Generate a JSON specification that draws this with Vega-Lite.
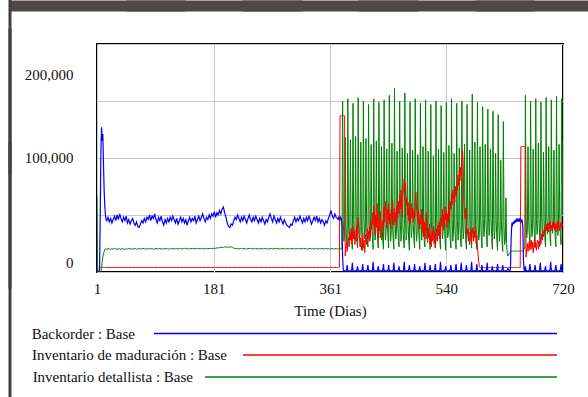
{
"$schema":"https://vega.github.io/schema/vega-lite/v6.json",
"autosize":{"type":"none"},
"width":466,"height":228,
"padding":{"left":97,"top":44,"right":25,"bottom":125},
"background":"white",
"config":{"font":"Liberation Serif","view":{"stroke":"black","strokeWidth":2,"fill":"white"}},
"data":{"values":[
{"t":1,"b":0,"r":0,"g":67000},{"t":2,"b":0,"r":0,"g":0},{"t":3,"b":0,"r":0,"g":0},{"t":4,"b":0,"r":0,"g":0},
{"t":5,"b":5000,"r":2000,"g":0},{"t":6,"b":50000,"r":4000,"g":0},{"t":7,"b":105000,"r":4000,"g":0},
{"t":8,"b":127000,"r":4000,"g":3000},{"t":9,"b":115000,"r":4000,"g":9000},{"t":10,"b":121000,"r":4000,"g":13000},
{"t":11,"b":95000,"r":4000,"g":16000},{"t":12,"b":72000,"r":4000,"g":18000},{"t":13,"b":58000,"r":4000,"g":19500},
{"t":14,"b":50000,"r":4000,"g":20500},{"t":15,"b":46000,"r":4000,"g":20000},
{"t":16,"b":45000,"r":4000,"g":20000},{"t":18,"b":48000,"r":4000,"g":20500},{"t":20,"b":44000,"r":4000,"g":20200},
{"t":22,"b":47000,"r":4000,"g":19800},{"t":24,"b":43000,"r":4000,"g":20400},{"t":26,"b":46000,"r":4000,"g":20100},
{"t":28,"b":49000,"r":4000,"g":20600},{"t":30,"b":45000,"r":4000,"g":20200},{"t":32,"b":50000,"r":4000,"g":19900},
{"t":34,"b":46000,"r":4000,"g":20400},{"t":36,"b":51000,"r":4000,"g":20300},{"t":38,"b":47000,"r":4000,"g":20000},
{"t":40,"b":44000,"r":4000,"g":20500},{"t":42,"b":48000,"r":4000,"g":20200},{"t":44,"b":45000,"r":4000,"g":19800},
{"t":46,"b":49000,"r":4000,"g":20400},{"t":48,"b":43000,"r":4000,"g":20100},{"t":50,"b":46000,"r":4000,"g":20600},
{"t":52,"b":42000,"r":4000,"g":20300},{"t":54,"b":45000,"r":4000,"g":20000},{"t":56,"b":47000,"r":4000,"g":20400},
{"t":58,"b":43000,"r":4000,"g":20200},{"t":60,"b":41000,"r":4000,"g":20600},{"t":62,"b":44000,"r":4000,"g":19900},
{"t":64,"b":40000,"r":4000,"g":20300},{"t":66,"b":39000,"r":4000,"g":20500},{"t":68,"b":42000,"r":4000,"g":20100},
{"t":70,"b":45000,"r":4000,"g":20400},{"t":72,"b":43000,"r":4000,"g":20700},{"t":74,"b":47000,"r":4000,"g":20200},
{"t":76,"b":44000,"r":4000,"g":20500},{"t":78,"b":48000,"r":4000,"g":20100},{"t":80,"b":46000,"r":4000,"g":20400},
{"t":82,"b":50000,"r":4000,"g":20600},{"t":84,"b":45000,"r":4000,"g":20200},{"t":86,"b":49000,"r":4000,"g":20500},
{"t":88,"b":47000,"r":4000,"g":19900},{"t":90,"b":51000,"r":4000,"g":20300},{"t":92,"b":46000,"r":4000,"g":20600},
{"t":94,"b":43000,"r":4000,"g":20200},{"t":96,"b":48000,"r":4000,"g":20400},{"t":98,"b":45000,"r":4000,"g":20700},
{"t":100,"b":49000,"r":4000,"g":20300},{"t":102,"b":44000,"r":4000,"g":20100},{"t":104,"b":41000,"r":4000,"g":20500},
{"t":106,"b":46000,"r":4000,"g":20200},{"t":108,"b":43000,"r":4000,"g":20600},{"t":110,"b":47000,"r":4000,"g":20400},
{"t":112,"b":44000,"r":4000,"g":20000},{"t":114,"b":48000,"r":4000,"g":20300},{"t":116,"b":45000,"r":4000,"g":20600},
{"t":118,"b":49000,"r":4000,"g":20200},{"t":120,"b":46000,"r":4000,"g":20500},{"t":122,"b":43000,"r":4000,"g":20300},
{"t":124,"b":47000,"r":4000,"g":20700},{"t":126,"b":42000,"r":4000,"g":20100},{"t":128,"b":45000,"r":4000,"g":20400},
{"t":130,"b":48000,"r":4000,"g":20600},{"t":132,"b":44000,"r":4000,"g":20200},{"t":134,"b":47000,"r":4000,"g":20500},
{"t":136,"b":43000,"r":4000,"g":20800},{"t":138,"b":46000,"r":4000,"g":20300},{"t":140,"b":41000,"r":4000,"g":20500},
{"t":142,"b":45000,"r":4000,"g":20200},{"t":144,"b":48000,"r":4000,"g":20600},{"t":146,"b":44000,"r":4000,"g":20400},
{"t":148,"b":47000,"r":4000,"g":20700},{"t":150,"b":45000,"r":4000,"g":20300},{"t":152,"b":49000,"r":4000,"g":20500},
{"t":154,"b":43000,"r":4000,"g":20800},{"t":156,"b":46000,"r":4000,"g":20400},{"t":158,"b":49000,"r":4000,"g":20600},
{"t":160,"b":45000,"r":4000,"g":20300},{"t":162,"b":48000,"r":4000,"g":20700},{"t":164,"b":51000,"r":4000,"g":20500},
{"t":166,"b":47000,"r":4000,"g":20200},{"t":168,"b":44000,"r":4000,"g":20600},{"t":170,"b":48000,"r":4000,"g":20400},
{"t":172,"b":46000,"r":4000,"g":20800},{"t":174,"b":50000,"r":4000,"g":20500},{"t":176,"b":47000,"r":4000,"g":20700},
{"t":178,"b":51000,"r":4000,"g":20400},{"t":180,"b":49000,"r":4000,"g":20900},{"t":182,"b":53000,"r":4000,"g":20600},
{"t":184,"b":48000,"r":4000,"g":20800},{"t":186,"b":52000,"r":4000,"g":21200},{"t":188,"b":50000,"r":4000,"g":21000},
{"t":190,"b":54000,"r":4000,"g":21400},{"t":192,"b":51000,"r":4000,"g":21600},{"t":194,"b":55000,"r":4000,"g":21300},
{"t":196,"b":57000,"r":4000,"g":21800},{"t":198,"b":52000,"r":4000,"g":22100},{"t":200,"b":48000,"r":4000,"g":21700},
{"t":202,"b":43000,"r":4000,"g":22000},{"t":204,"b":40000,"r":4000,"g":21600},{"t":206,"b":39000,"r":4000,"g":21900},
{"t":208,"b":42000,"r":4000,"g":22200},{"t":210,"b":41000,"r":4000,"g":21500},{"t":212,"b":45000,"r":4000,"g":21000},
{"t":214,"b":48000,"r":4000,"g":20600},{"t":216,"b":46000,"r":4000,"g":20300},{"t":218,"b":50000,"r":4000,"g":20600},
{"t":220,"b":47000,"r":4000,"g":20200},{"t":222,"b":44000,"r":4000,"g":20500},{"t":224,"b":48000,"r":4000,"g":20800},
{"t":226,"b":45000,"r":4000,"g":20300},{"t":228,"b":49000,"r":4000,"g":20600},{"t":230,"b":46000,"r":4000,"g":20400},
{"t":232,"b":43000,"r":4000,"g":20100},{"t":234,"b":47000,"r":4000,"g":20500},{"t":236,"b":50000,"r":4000,"g":20700},
{"t":238,"b":46000,"r":4000,"g":20300},{"t":240,"b":44000,"r":4000,"g":20600},{"t":242,"b":48000,"r":4000,"g":20200},
{"t":244,"b":45000,"r":4000,"g":20500},{"t":246,"b":49000,"r":4000,"g":20800},{"t":248,"b":46000,"r":4000,"g":20400},
{"t":250,"b":43000,"r":4000,"g":20100},{"t":252,"b":47000,"r":4000,"g":20600},{"t":254,"b":44000,"r":4000,"g":20300},
{"t":256,"b":48000,"r":4000,"g":20500},{"t":258,"b":45000,"r":4000,"g":20200},{"t":260,"b":42000,"r":4000,"g":20700},
{"t":262,"b":46000,"r":4000,"g":20400},{"t":264,"b":44000,"r":4000,"g":20100},{"t":266,"b":48000,"r":4000,"g":20500},
{"t":268,"b":51000,"r":4000,"g":20300},{"t":270,"b":47000,"r":4000,"g":20600},{"t":272,"b":44000,"r":4000,"g":20200},
{"t":274,"b":49000,"r":4000,"g":20500},{"t":276,"b":46000,"r":4000,"g":20800},{"t":278,"b":43000,"r":4000,"g":20400},
{"t":280,"b":47000,"r":4000,"g":20600},{"t":282,"b":44000,"r":4000,"g":20200},{"t":284,"b":48000,"r":4000,"g":20500},
{"t":286,"b":45000,"r":4000,"g":20300},{"t":288,"b":42000,"r":4000,"g":20700},{"t":290,"b":46000,"r":4000,"g":20100},
{"t":292,"b":43000,"r":4000,"g":20400},{"t":294,"b":41000,"r":4000,"g":20600},{"t":296,"b":40000,"r":4000,"g":20200},
{"t":298,"b":39000,"r":4000,"g":20500},{"t":300,"b":42000,"r":4000,"g":20300},{"t":302,"b":41000,"r":4000,"g":20700},
{"t":304,"b":45000,"r":4000,"g":20400},{"t":306,"b":48000,"r":4000,"g":20100},{"t":308,"b":44000,"r":4000,"g":20600},
{"t":310,"b":47000,"r":4000,"g":20300},{"t":312,"b":45000,"r":4000,"g":20500},{"t":314,"b":49000,"r":4000,"g":20200},
{"t":316,"b":46000,"r":4000,"g":20600},{"t":318,"b":43000,"r":4000,"g":20400},{"t":320,"b":47000,"r":4000,"g":20800},
{"t":322,"b":44000,"r":4000,"g":20300},{"t":324,"b":48000,"r":4000,"g":20500},{"t":326,"b":45000,"r":4000,"g":20100},
{"t":328,"b":49000,"r":4000,"g":20400},{"t":330,"b":46000,"r":4000,"g":20700},{"t":332,"b":42000,"r":4000,"g":20300},
{"t":334,"b":45000,"r":4000,"g":20500},{"t":336,"b":48000,"r":4000,"g":20200},{"t":338,"b":45000,"r":4000,"g":20600},
{"t":340,"b":49000,"r":4000,"g":20400},{"t":342,"b":44000,"r":4000,"g":20100},{"t":344,"b":47000,"r":4000,"g":20500},
{"t":346,"b":43000,"r":4000,"g":20300},{"t":348,"b":46000,"r":4000,"g":20700},{"t":350,"b":44000,"r":4000,"g":20200},
{"t":352,"b":41000,"r":4000,"g":20400},{"t":354,"b":45000,"r":4000,"g":20600},{"t":356,"b":43000,"r":4000,"g":20300},
{"t":358,"b":47000,"r":4000,"g":20500},{"t":360,"b":50000,"r":4000,"g":20100},{"t":362,"b":54000,"r":4000,"g":20400},
{"t":364,"b":49000,"r":4000,"g":20600},{"t":366,"b":47000,"r":4000,"g":20200},{"t":368,"b":51000,"r":4000,"g":20500},
{"t":370,"b":48000,"r":4000,"g":20300},{"t":372,"b":47000,"r":4000,"g":20400},{"t":373,"b":46000,"r":4000,"g":20400},
{"t":374,"b":48000,"r":4000,"g":20000},{"t":375,"b":47000,"r":4000,"g":20300},{"t":376,"b":46000,"r":137000,"g":20100},
{"t":377,"b":48000,"r":137000,"g":20400},{"t":378,"b":47000,"r":137000,"g":20200},{"t":379,"b":40000,"r":137000,"g":20000},
{"t":380,"b":12000,"r":137000,"g":150000},{"t":381,"b":2000,"r":137000,"g":46000},{"t":382,"b":1000,"r":137000,"g":27000},
{"t":383,"b":1000,"r":137000,"g":33000},{"t":384,"b":1000,"r":14000,"g":118000},{"t":385,"b":1000,"r":20000,"g":42000},
{"t":386,"b":2000,"r":26000,"g":29000},{"t":387,"b":6000,"r":18000,"g":21000},{"t":388,"b":1000,"r":24000,"g":152000},
{"t":389,"b":1000,"r":30000,"g":44000},{"t":390,"b":1000,"r":22000,"g":28000},{"t":391,"b":1000,"r":35000,"g":35000},
{"t":392,"b":1000,"r":28000,"g":116000},{"t":393,"b":1000,"r":38000,"g":41000},{"t":394,"b":2000,"r":25000,"g":27000},
{"t":395,"b":8000,"r":32000,"g":20000},{"t":396,"b":1000,"r":40000,"g":148000},{"t":397,"b":1000,"r":29000,"g":46000},
{"t":398,"b":1000,"r":36000,"g":30000},{"t":399,"b":1000,"r":24000,"g":34000},{"t":400,"b":1000,"r":31000,"g":119000},
{"t":401,"b":1000,"r":38000,"g":43000},{"t":402,"b":2000,"r":27000,"g":28000},{"t":403,"b":5000,"r":42000,"g":21000},
{"t":404,"b":1000,"r":48000,"g":153000},{"t":405,"b":1000,"r":35000,"g":45000},{"t":406,"b":1000,"r":28000,"g":27000},
{"t":407,"b":1000,"r":22000,"g":33000},{"t":408,"b":1000,"r":30000,"g":114000},{"t":409,"b":1000,"r":19000,"g":40000},
{"t":410,"b":2000,"r":26000,"g":29000},{"t":411,"b":7000,"r":34000,"g":19000},{"t":412,"b":1000,"r":21000,"g":150000},
{"t":413,"b":1000,"r":28000,"g":47000},{"t":414,"b":1000,"r":17000,"g":29000},{"t":415,"b":1000,"r":25000,"g":36000},
{"t":416,"b":1000,"r":33000,"g":117000},{"t":417,"b":1000,"r":24000,"g":42000},{"t":418,"b":2000,"r":38000,"g":28000},
{"t":419,"b":6000,"r":29000,"g":22000},{"t":420,"b":1000,"r":36000,"g":147000},{"t":421,"b":1000,"r":27000,"g":44000},
{"t":422,"b":1000,"r":40000,"g":27000},{"t":423,"b":1000,"r":31000,"g":34000},{"t":424,"b":1000,"r":45000,"g":112000},
{"t":425,"b":1000,"r":37000,"g":41000},{"t":426,"b":2000,"r":52000,"g":29000},{"t":427,"b":9000,"r":41000,"g":20000},
{"t":428,"b":1000,"r":58000,"g":152000},{"t":429,"b":1000,"r":46000,"g":45000},{"t":430,"b":1000,"r":33000,"g":28000},
{"t":431,"b":1000,"r":50000,"g":35000},{"t":432,"b":1000,"r":39000,"g":115000},{"t":433,"b":1000,"r":60000,"g":43000},
{"t":434,"b":2000,"r":44000,"g":28000},{"t":435,"b":5000,"r":30000,"g":21000},{"t":436,"b":1000,"r":47000,"g":149000},
{"t":437,"b":1000,"r":36000,"g":46000},{"t":438,"b":1000,"r":53000,"g":30000},{"t":439,"b":1000,"r":42000,"g":33000},
{"t":440,"b":1000,"r":28000,"g":110000},{"t":441,"b":1000,"r":45000,"g":40000},{"t":442,"b":2000,"r":38000,"g":27000},
{"t":443,"b":7000,"r":49000,"g":20000},{"t":444,"b":1000,"r":57000,"g":151000},{"t":445,"b":1000,"r":44000,"g":44000},
{"t":446,"b":1000,"r":62000,"g":28000},{"t":447,"b":1000,"r":48000,"g":36000},{"t":448,"b":1000,"r":39000,"g":108000},
{"t":449,"b":1000,"r":55000,"g":42000},{"t":450,"b":2000,"r":46000,"g":29000},{"t":451,"b":6000,"r":60000,"g":21000},
{"t":452,"b":1000,"r":42000,"g":155000},{"t":453,"b":1000,"r":51000,"g":47000},{"t":454,"b":1000,"r":38000,"g":27000},
{"t":455,"b":1000,"r":55000,"g":34000},{"t":456,"b":1000,"r":47000,"g":113000},{"t":457,"b":1000,"r":63000,"g":41000},
{"t":458,"b":2000,"r":50000,"g":28000},{"t":459,"b":8000,"r":41000,"g":20000},{"t":460,"b":1000,"r":56000,"g":161000},
{"t":461,"b":1000,"r":44000,"g":45000},{"t":462,"b":1000,"r":52000,"g":29000},{"t":463,"b":1000,"r":40000,"g":35000},
{"t":464,"b":1000,"r":58000,"g":106000},{"t":465,"b":1000,"r":47000,"g":43000},{"t":466,"b":2000,"r":62000,"g":28000},
{"t":467,"b":5000,"r":51000,"g":22000},{"t":468,"b":1000,"r":68000,"g":150000},{"t":469,"b":1000,"r":55000,"g":44000},
{"t":470,"b":1000,"r":72000,"g":27000},{"t":471,"b":1000,"r":60000,"g":33000},{"t":472,"b":1000,"r":48000,"g":109000},
{"t":473,"b":1000,"r":66000,"g":40000},{"t":474,"b":2000,"r":74000,"g":29000},{"t":475,"b":9000,"r":82000,"g":21000},
{"t":476,"b":1000,"r":70000,"g":157000},{"t":477,"b":1000,"r":78000,"g":46000},{"t":478,"b":1000,"r":58000,"g":28000},
{"t":479,"b":1000,"r":65000,"g":34000},{"t":480,"b":1000,"r":50000,"g":104000},{"t":481,"b":1000,"r":61000,"g":42000},
{"t":482,"b":2000,"r":45000,"g":27000},{"t":483,"b":6000,"r":55000,"g":19000},{"t":484,"b":1000,"r":42000,"g":149000},
{"t":485,"b":1000,"r":52000,"g":45000},{"t":486,"b":1000,"r":60000,"g":30000},{"t":487,"b":1000,"r":47000,"g":36000},
{"t":488,"b":1000,"r":56000,"g":107000},{"t":489,"b":1000,"r":44000,"g":41000},{"t":490,"b":2000,"r":53000,"g":28000},
{"t":491,"b":7000,"r":48000,"g":21000},{"t":492,"b":1000,"r":62000,"g":152000},{"t":493,"b":1000,"r":70000,"g":44000},
{"t":494,"b":1000,"r":57000,"g":27000},{"t":495,"b":1000,"r":49000,"g":34000},{"t":496,"b":1000,"r":43000,"g":103000},
{"t":497,"b":1000,"r":54000,"g":40000},{"t":498,"b":2000,"r":46000,"g":29000},{"t":499,"b":5000,"r":38000,"g":20000},
{"t":500,"b":1000,"r":50000,"g":148000},{"t":501,"b":1000,"r":42000,"g":46000},{"t":502,"b":1000,"r":55000,"g":28000},
{"t":503,"b":1000,"r":35000,"g":35000},{"t":504,"b":1000,"r":47000,"g":110000},{"t":505,"b":1000,"r":31000,"g":43000},
{"t":506,"b":2000,"r":44000,"g":27000},{"t":507,"b":8000,"r":29000,"g":22000},{"t":508,"b":1000,"r":40000,"g":151000},
{"t":509,"b":1000,"r":52000,"g":45000},{"t":510,"b":1000,"r":36000,"g":29000},{"t":511,"b":1000,"r":26000,"g":33000},
{"t":512,"b":1000,"r":38000,"g":106000},{"t":513,"b":1000,"r":30000,"g":41000},{"t":514,"b":2000,"r":42000,"g":28000},
{"t":515,"b":6000,"r":24000,"g":20000},{"t":516,"b":1000,"r":33000,"g":147000},{"t":517,"b":1000,"r":22000,"g":44000},
{"t":518,"b":1000,"r":36000,"g":27000},{"t":519,"b":1000,"r":28000,"g":36000},{"t":520,"b":1000,"r":40000,"g":102000},
{"t":521,"b":1000,"r":25000,"g":42000},{"t":522,"b":2000,"r":34000,"g":29000},{"t":523,"b":7000,"r":21000,"g":21000},
{"t":524,"b":1000,"r":30000,"g":150000},{"t":525,"b":1000,"r":38000,"g":47000},{"t":526,"b":1000,"r":27000,"g":28000},
{"t":527,"b":1000,"r":41000,"g":34000},{"t":528,"b":1000,"r":32000,"g":108000},{"t":529,"b":1000,"r":44000,"g":40000},
{"t":530,"b":2000,"r":29000,"g":27000},{"t":531,"b":9000,"r":36000,"g":20000},{"t":532,"b":1000,"r":48000,"g":146000},
{"t":533,"b":1000,"r":40000,"g":45000},{"t":534,"b":1000,"r":55000,"g":29000},{"t":535,"b":1000,"r":37000,"g":35000},
{"t":536,"b":1000,"r":50000,"g":105000},{"t":537,"b":1000,"r":42000,"g":43000},{"t":538,"b":2000,"r":57000,"g":28000},
{"t":539,"b":5000,"r":46000,"g":19000},{"t":540,"b":1000,"r":53000,"g":149000},{"t":541,"b":1000,"r":39000,"g":44000},
{"t":542,"b":1000,"r":51000,"g":30000},{"t":543,"b":1000,"r":44000,"g":33000},{"t":544,"b":1000,"r":58000,"g":111000},
{"t":545,"b":1000,"r":48000,"g":41000},{"t":546,"b":2000,"r":62000,"g":28000},{"t":547,"b":6000,"r":55000,"g":21000},
{"t":548,"b":1000,"r":68000,"g":152000},{"t":549,"b":1000,"r":59000,"g":46000},{"t":550,"b":1000,"r":72000,"g":27000},
{"t":551,"b":1000,"r":64000,"g":34000},{"t":552,"b":1000,"r":70000,"g":104000},{"t":553,"b":1000,"r":61000,"g":42000},
{"t":554,"b":2000,"r":75000,"g":29000},{"t":555,"b":7000,"r":66000,"g":20000},{"t":556,"b":1000,"r":80000,"g":148000},
{"t":557,"b":1000,"r":71000,"g":45000},{"t":558,"b":1000,"r":85000,"g":28000},{"t":559,"b":1000,"r":76000,"g":35000},
{"t":560,"b":1000,"r":89000,"g":109000},{"t":561,"b":1000,"r":80000,"g":40000},{"t":562,"b":2000,"r":92000,"g":27000},
{"t":563,"b":8000,"r":84000,"g":22000},{"t":564,"b":1000,"r":100000,"g":150000},{"t":565,"b":1000,"r":107000,"g":44000},
{"t":566,"b":1000,"r":95000,"g":29000},{"t":567,"b":1000,"r":60000,"g":36000},{"t":568,"b":1000,"r":52000,"g":112000},
{"t":569,"b":1000,"r":47000,"g":43000},{"t":570,"b":2000,"r":56000,"g":28000},{"t":571,"b":6000,"r":40000,"g":20000},
{"t":572,"b":1000,"r":33000,"g":147000},{"t":573,"b":1000,"r":38000,"g":46000},{"t":574,"b":1000,"r":27000,"g":30000},
{"t":575,"b":1000,"r":35000,"g":34000},{"t":576,"b":1000,"r":24000,"g":107000},{"t":577,"b":1000,"r":31000,"g":41000},
{"t":578,"b":2000,"r":37000,"g":28000},{"t":579,"b":9000,"r":26000,"g":21000},{"t":580,"b":1000,"r":33000,"g":156000},
{"t":581,"b":1000,"r":39000,"g":45000},{"t":582,"b":1000,"r":28000,"g":27000},{"t":583,"b":1000,"r":36000,"g":35000},
{"t":584,"b":1000,"r":30000,"g":114000},{"t":585,"b":1000,"r":40000,"g":42000},{"t":586,"b":2000,"r":25000,"g":29000},
{"t":587,"b":7000,"r":32000,"g":20000},{"t":588,"b":1000,"r":22000,"g":149000},{"t":589,"b":1000,"r":15000,"g":44000},
{"t":590,"b":1000,"r":9000,"g":28000},{"t":591,"b":1000,"r":5000,"g":33000},{"t":592,"b":1000,"r":4000,"g":110000},
{"t":593,"b":1000,"r":4000,"g":45000},{"t":594,"b":2000,"r":4000,"g":30000},{"t":595,"b":6000,"r":4000,"g":21000},
{"t":596,"b":1000,"r":4000,"g":145000},{"t":597,"b":1000,"r":4000,"g":47000},{"t":598,"b":1000,"r":4000,"g":31000},
{"t":599,"b":1000,"r":4000,"g":38000},{"t":600,"b":1000,"r":4000,"g":112000},{"t":601,"b":1000,"r":4000,"g":46000},
{"t":602,"b":2000,"r":4000,"g":33000},{"t":603,"b":8000,"r":4000,"g":22000},{"t":604,"b":1000,"r":4000,"g":143000},
{"t":605,"b":1000,"r":4000,"g":48000},{"t":606,"b":1000,"r":4000,"g":32000},{"t":607,"b":1000,"r":4000,"g":40000},
{"t":608,"b":1000,"r":4000,"g":108000},{"t":609,"b":1000,"r":4000,"g":47000},{"t":610,"b":2000,"r":4000,"g":30000},
{"t":611,"b":5000,"r":4000,"g":20000},{"t":612,"b":1000,"r":4000,"g":141000},{"t":613,"b":1000,"r":4000,"g":46000},
{"t":614,"b":1000,"r":4000,"g":29000},{"t":615,"b":1000,"r":4000,"g":38000},{"t":616,"b":1000,"r":4000,"g":104000},
{"t":617,"b":1000,"r":4000,"g":44000},{"t":618,"b":2000,"r":4000,"g":28000},{"t":619,"b":7000,"r":4000,"g":19000},
{"t":620,"b":1000,"r":4000,"g":138000},{"t":621,"b":1000,"r":4000,"g":45000},{"t":622,"b":1000,"r":4000,"g":27000},
{"t":623,"b":1000,"r":4000,"g":35000},{"t":624,"b":1000,"r":4000,"g":98000},{"t":625,"b":1000,"r":4000,"g":42000},
{"t":626,"b":2000,"r":4000,"g":26000},{"t":627,"b":6000,"r":4000,"g":18000},{"t":628,"b":1000,"r":4000,"g":132000},
{"t":629,"b":1000,"r":4000,"g":40000},{"t":630,"b":1000,"r":4000,"g":24000},{"t":631,"b":1000,"r":4000,"g":28000},
{"t":632,"b":1000,"r":4000,"g":65000},{"t":633,"b":1000,"r":4000,"g":25000},{"t":634,"b":2000,"r":4000,"g":16000},
{"t":635,"b":3000,"r":4000,"g":14000},{"t":636,"b":2000,"r":4000,"g":15000},{"t":637,"b":1000,"r":4000,"g":16000},
{"t":638,"b":1000,"r":4000,"g":17000},{"t":639,"b":4000,"r":4000,"g":17000},{"t":640,"b":30000,"r":4000,"g":18000},
{"t":641,"b":42000,"r":4000,"g":18500},{"t":642,"b":41000,"r":4000,"g":18200},{"t":643,"b":44000,"r":4000,"g":18400},
{"t":644,"b":42000,"r":4000,"g":18600},{"t":645,"b":45000,"r":4000,"g":18300},{"t":646,"b":43000,"r":4000,"g":18500},
{"t":647,"b":46000,"r":4000,"g":18200},{"t":648,"b":44000,"r":4000,"g":18400},{"t":649,"b":47000,"r":4000,"g":18600},
{"t":650,"b":45000,"r":4000,"g":18300},{"t":651,"b":46000,"r":4000,"g":18500},{"t":652,"b":44000,"r":4000,"g":18200},
{"t":653,"b":47000,"r":4000,"g":18400},{"t":654,"b":45000,"r":4000,"g":18600},{"t":655,"b":46000,"r":110000,"g":18300},
{"t":656,"b":44000,"r":110000,"g":18500},{"t":657,"b":45000,"r":110000,"g":18400},{"t":658,"b":40000,"r":110000,"g":18200},
{"t":659,"b":10000,"r":110000,"g":18400},{"t":660,"b":2000,"r":110000,"g":20000},{"t":661,"b":1000,"r":110000,"g":22000},
{"t":662,"b":5000,"r":110000,"g":155000},{"t":663,"b":1000,"r":13000,"g":46000},{"t":664,"b":1000,"r":20000,"g":30000},
{"t":665,"b":1000,"r":25000,"g":36000},{"t":666,"b":1000,"r":18000,"g":110000},{"t":667,"b":1000,"r":23000,"g":44000},
{"t":668,"b":2000,"r":27000,"g":32000},{"t":669,"b":7000,"r":19000,"g":23000},{"t":670,"b":1000,"r":24000,"g":150000},
{"t":671,"b":1000,"r":28000,"g":47000},{"t":672,"b":1000,"r":20000,"g":31000},{"t":673,"b":1000,"r":26000,"g":37000},
{"t":674,"b":1000,"r":17000,"g":108000},{"t":675,"b":1000,"r":24000,"g":45000},{"t":676,"b":2000,"r":29000,"g":30000},
{"t":677,"b":6000,"r":21000,"g":22000},{"t":678,"b":1000,"r":26000,"g":152000},{"t":679,"b":1000,"r":19000,"g":46000},
{"t":680,"b":1000,"r":25000,"g":33000},{"t":681,"b":1000,"r":28000,"g":40000},{"t":682,"b":1000,"r":20000,"g":113000},
{"t":683,"b":1000,"r":27000,"g":46000},{"t":684,"b":2000,"r":22000,"g":31000},{"t":685,"b":8000,"r":30000,"g":24000},
{"t":686,"b":1000,"r":25000,"g":149000},{"t":687,"b":1000,"r":33000,"g":48000},{"t":688,"b":1000,"r":28000,"g":32000},
{"t":689,"b":1000,"r":36000,"g":39000},{"t":690,"b":1000,"r":31000,"g":105000},{"t":691,"b":1000,"r":38000,"g":45000},
{"t":692,"b":2000,"r":34000,"g":30000},{"t":693,"b":5000,"r":40000,"g":22000},{"t":694,"b":1000,"r":36000,"g":153000},
{"t":695,"b":1000,"r":42000,"g":47000},{"t":696,"b":1000,"r":37000,"g":33000},{"t":697,"b":1000,"r":43000,"g":41000},
{"t":698,"b":1000,"r":35000,"g":110000},{"t":699,"b":1000,"r":40000,"g":46000},{"t":700,"b":2000,"r":44000,"g":31000},
{"t":701,"b":9000,"r":38000,"g":23000},{"t":702,"b":1000,"r":41000,"g":151000},{"t":703,"b":1000,"r":36000,"g":48000},
{"t":704,"b":1000,"r":43000,"g":34000},{"t":705,"b":1000,"r":39000,"g":42000},{"t":706,"b":1000,"r":45000,"g":107000},
{"t":707,"b":1000,"r":37000,"g":45000},{"t":708,"b":2000,"r":42000,"g":30000},{"t":709,"b":6000,"r":35000,"g":22000},
{"t":710,"b":1000,"r":40000,"g":154000},{"t":711,"b":1000,"r":44000,"g":47000},{"t":712,"b":1000,"r":38000,"g":32000},
{"t":713,"b":1000,"r":45000,"g":40000},{"t":714,"b":1000,"r":41000,"g":112000},{"t":715,"b":1000,"r":36000,"g":46000},
{"t":716,"b":2000,"r":43000,"g":31000},{"t":717,"b":7000,"r":39000,"g":24000},{"t":718,"b":1000,"r":44000,"g":152000},
{"t":719,"b":1000,"r":40000,"g":50000},{"t":720,"b":1000,"r":42000,"g":115000}
]},
"layer":[
{
"encoding":{
"x":{"field":"t","type":"quantitative","scale":{"domain":[1,720],"nice":false,"zero":false},
"axis":{"values":[1,181,361,540,720],"title":"Time (Dias)","grid":true,"gridColor":"#c8c8c8","ticks":false,"domain":false,
"labelFlush":false,"labelFont":"Liberation Serif","labelFontSize":15,"labelColor":"#111","labelPadding":9,
"titleFont":"Liberation Serif","titleFontSize":15,"titleFontWeight":"normal","titleColor":"#111","titlePadding":7}}
},
"layer":[
{"mark":{"type":"line","strokeWidth":1,"clip":true},
"encoding":{"y":{"field":"g","type":"quantitative","scale":{"domain":[0,200000],"nice":false},
"axis":{"values":[0,50000,100000,150000,200000],"title":null,"grid":true,"gridColor":"#c8c8c8","ticks":false,"domain":false,
"labelExpr":"datum.value % 100000 == 0 ? format(datum.value, ',') : ''",
"labelFont":"Liberation Serif","labelFontSize":15,"labelColor":"#111","labelPadding":24,
"labelOffset":{"condition":[{"test":"datum.value === 0","value":-10},{"test":"datum.value === 200000","value":30}],"value":-1}}},
"color":{"datum":"Inventario detallista : Base","scale":{"range":["#008000"]},
"legend":{"orient":"none","legendX":107,"legendY":156,"title":null,
"labelFont":"Liberation Serif","labelFontSize":15,"labelColor":"#111","labelAlign":"right","labelOffset":-365,"labelLimit":400,
"symbolType":"stroke","symbolSize":123904,"symbolStrokeWidth":1.3,"padding":0}}}},
{"mark":{"type":"line","strokeWidth":1,"clip":true},
"encoding":{"y":{"field":"r","type":"quantitative"},
"color":{"datum":"Inventario de maduración : Base","scale":{"range":["#ff0000"]},
"legend":{"orient":"none","legendX":145,"legendY":153,"title":null,
"labelFont":"Liberation Serif","labelFontSize":15,"labelColor":"#111","labelAlign":"right","labelOffset":-331,"labelLimit":400,
"symbolType":"stroke","symbolSize":98596,"symbolStrokeWidth":1.3,"symbolStrokeColor":"#ff7070","padding":0}}}}
],
"resolve":{"scale":{"color":"independent"}}
},
{"mark":{"type":"line","strokeWidth":1.2,"clip":true},
"encoding":{
"x":{"field":"t","type":"quantitative","scale":{"domain":[1,720],"nice":false,"zero":false},
"axis":{"orient":"top","values":[1,181,361,540,720],"labels":false,"domain":false,"grid":false,"ticks":true,"tickSize":11,"tickWidth":176,"tickColor":"#504846","offset":33,"title":null}},
"y":{"field":"b","type":"quantitative","scale":{"domain":[0,200000],"nice":false},
"axis":{"orient":"right","values":[0,100000,200000],"labels":false,"domain":false,"grid":false,"ticks":true,"tickSize":3,"tickWidth":260,"tickColor":"#404040","offset":-555,"title":null}},
"color":{"datum":"Backorder : Base","scale":{"range":["#0000ff"]},
"legend":{"orient":"none","legendX":56,"legendY":87,"title":null,
"labelFont":"Liberation Serif","labelFontSize":15,"labelColor":"#111","labelAlign":"right","labelOffset":-423,"labelLimit":400,
"symbolType":"stroke","symbolSize":162409,"symbolStrokeWidth":1.3,"padding":0}}}}
],
"resolve":{"scale":{"x":"independent","y":"independent","color":"independent"}}
}
